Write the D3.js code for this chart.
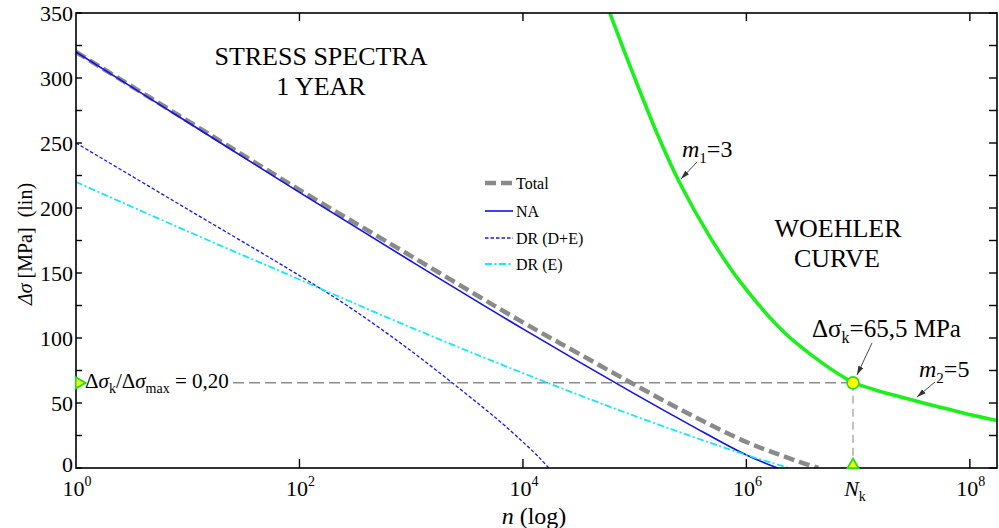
<!DOCTYPE html>
<html><head><meta charset="utf-8">
<script src="https://cdn.jsdelivr.net/npm/d3@7"></script>
<style>
body{margin:0;background:#fff}
svg{display:block}
text{font-family:"Liberation Serif","Times New Roman",serif;fill:#000;white-space:pre}
</style>
</head><body>
<svg id="c" width="999" height="528"></svg>
<script>
// ---------------- data ----------------
const xTickExponents = [0, 2, 4, 6, 8];
const yTickLabels = [0, 50, 100, 150, 200, 250, 300, 350];
const yTickAll = [0,25,50,75,100,125,150,175,200,225,250,275,300,325,350];

// stress spectra [n, Δσ]
const totalData = [[1,320],[10,267],[100,214],[1e3,163],[1e4,112],[3.16e4,88],[1e5,64],[3.16e5,41],[1e6,20],[2e6,10],[3.16e6,4],[4.4e6,0]];
const naData    = [[1,320],[10,266],[100,212],[1e3,159],[1e4,107],[1e5,57],[3.16e5,33],[1e6,10],[1.9e6,0]];
const drDEData  = [[1,250],[10,199],[100,148],[300,122],[1e3,90],[3e3,58],[6e3,37],[1e4,20],[1.4e4,8],[1.7e4,0]];
const drEData   = [[1,220],[10,182],[100,145],[1e3,108],[1e4,73],[1e5,40],[1e6,10],[2.4e6,0]];

// Woehler curve [n, Δσ]
const woehlerM1 = [[6.0e4,350],[9.4e4,306],[1.63e5,255],[2.54e5,219],[4.7e5,178],[8.75e5,143.5],[2.2e6,104],[5e6,79.5],[9.0e6,65.5]];
const woehlerM2 = [[9.0e6,65.5],[1.5e7,59.5],[2e7,56.5],[3.3e7,51.5],[5e7,47.5],[8.7e7,42.3],[1.75e8,36.5]];

const kneeN = 9.0e6;
const kneeS = 65.5;
const legendNames = ["Total", "NA", "DR (D+E)", "DR (E)"];

// ---------------- layout ----------------
const svg = d3.select("#c");
const L = 76, R = 997, T = 13, B = 468;
const x = d3.scaleLog().domain([1, 1.75e8]).range([L, R]);
const y = d3.scaleLinear().domain([0, 350]).range([B, T]);

const defs = svg.append("defs");
defs.append("clipPath").attr("id","clip")
  .append("rect").attr("x",L).attr("y",T).attr("width",R-L).attr("height",B-T);
defs.append("marker").attr("id","arr").attr("viewBox","0 0 10 6")
  .attr("refX",10).attr("refY",3).attr("markerWidth",9).attr("markerHeight",6)
  .attr("markerUnits","userSpaceOnUse").attr("orient","auto")
  .append("path").attr("d","M0,0 L10,3 L0,6 Z").attr("fill","#333");

const styles = [
  {data: totalData, color:"#8a8a8a", width:4.5, dash:"11,5"},
  {data: naData,    color:"#1010f0", width:1.6, dash:null},
  {data: drDEData,  color:"#1a1ae6", width:1.3, dash:"3.5,2"},
  {data: drEData,   color:"#14e8f8", width:1.8, dash:"7,2.5,2,2.5"}
];

const line = d3.line().x(d=>x(d[0])).y(d=>y(d[1])).curve(d3.curveCatmullRom.alpha(0.5));
const gPlot = svg.append("g").attr("clip-path","url(#clip)");

// reference dashed lines
gPlot.append("line").attr("x1",233).attr("x2",x(kneeN)).attr("y1",y(kneeS)).attr("y2",y(kneeS))
  .attr("stroke","#555").attr("stroke-width",1).attr("stroke-dasharray","11,5");
gPlot.append("line").attr("x1",x(kneeN)).attr("x2",x(kneeN)).attr("y1",y(kneeS)).attr("y2",y(0))
  .attr("stroke","#999").attr("stroke-width",1.2).attr("stroke-dasharray","8,5");

styles.forEach(s=>{
  gPlot.append("path").attr("d",line(s.data)).attr("fill","none")
    .attr("stroke",s.color).attr("stroke-width",s.width)
    .attr("stroke-dasharray",s.dash);
});

[woehlerM1, woehlerM2].forEach(w=>{
  gPlot.append("path").attr("d",line(w)).attr("fill","none")
    .attr("stroke","#1cf01c").attr("stroke-width",3.6).attr("stroke-linejoin","round");
});

// frame
svg.append("rect").attr("x",L).attr("y",T).attr("width",R-L).attr("height",B-T)
  .attr("fill","none").attr("stroke","#000").attr("stroke-width",1.6);

// y ticks (left & right, inward)
yTickAll.forEach(v=>{
  svg.append("line").attr("x1",L).attr("x2",L+6).attr("y1",y(v)).attr("y2",y(v)).attr("stroke","#000").attr("stroke-width",1.4);
  svg.append("line").attr("x1",R).attr("x2",R-8).attr("y1",y(v)).attr("y2",y(v)).attr("stroke","#000").attr("stroke-width",1.4);
});
yTickLabels.forEach(v=>{
  svg.append("text").attr("x",L-3).attr("y",y(v)).attr("dy", v===0 ? "0.2em" : "0.35em")
    .attr("text-anchor","end").attr("font-size",22).text(v);
});

// x ticks (bottom & top, inward)
xTickExponents.forEach(e=>{
  const px = x(Math.pow(10,e));
  if (e>0) {
    svg.append("line").attr("x1",px).attr("x2",px).attr("y1",B).attr("y2",B-9).attr("stroke","#000").attr("stroke-width",1.4);
    svg.append("line").attr("x1",px).attr("x2",px).attr("y1",T).attr("y2",T+8).attr("stroke","#000").attr("stroke-width",1.4);
  }
  const t = svg.append("text").attr("x",px+1).attr("y",496).attr("text-anchor","middle").attr("font-size",22);
  t.append("tspan").text("10");
  t.append("tspan").attr("dy",-10).attr("font-size",14).text(e);
});
// N_k label
const nk = svg.append("text").attr("x",x(kneeN)+2).attr("y",496).attr("text-anchor","middle").attr("font-size",22);
nk.append("tspan").attr("font-style","italic").text("N");
nk.append("tspan").attr("dy",5).attr("font-size",14).text("k");

// axis titles
const xt = svg.append("text").attr("x",534).attr("y",524).attr("text-anchor","middle").attr("font-size",24);
xt.append("tspan").attr("font-style","italic").text("n");
xt.append("tspan").text(" (log)");

const yt = svg.append("text").attr("transform","translate(32,244) rotate(-90)").attr("text-anchor","middle").attr("font-size",20);
yt.append("tspan").attr("font-style","italic").text("Δσ");
yt.append("tspan").text(" [MPa]  (lin)");

// big labels
[["STRESS SPECTRA",321,65],["1 YEAR",321,95],["WOEHLER",838,237],["CURVE",837,267]].forEach(d=>{
  svg.append("text").attr("x",d[1]).attr("y",d[2]).attr("text-anchor","middle").attr("font-size",26).text(d[0]);
});

// legend
const legY = [183, 211, 238, 264];
styles.forEach((s,i)=>{
  svg.append("line").attr("x1",485).attr("x2",513).attr("y1",legY[i]).attr("y2",legY[i])
    .attr("stroke",s.color).attr("stroke-width",s.width).attr("stroke-dasharray",s.dash);
  svg.append("text").attr("x",516).attr("y",legY[i]).attr("dy","0.35em").attr("font-size",16).text(legendNames[i]);
});

// annotations
function mLabel(px, py, sub, val){
  const t = svg.append("text").attr("x",px).attr("y",py).attr("font-size",24);
  t.append("tspan").attr("font-style","italic").text("m");
  t.append("tspan").attr("dy",6).attr("font-size",15).text(sub);
  t.append("tspan").attr("dy",-6).text("=" + val);
}
mLabel(682, 157, "1", "3");
mLabel(919, 377, "2", "5");

const dk = svg.append("text").attr("x",812).attr("y",337).attr("font-size",25);
dk.append("tspan").text("Δσ");
dk.append("tspan").attr("dy",6).attr("font-size",16).text("k");
dk.append("tspan").attr("dy",-6).text("=65,5 MPa");

const lr = svg.append("text").attr("x",85).attr("y",388).attr("font-size",21);
lr.append("tspan").text("Δ");
lr.append("tspan").attr("font-style","italic").text("σ");
lr.append("tspan").attr("dy",5).attr("font-size",14).text("k");
lr.append("tspan").attr("dy",-5).text("/Δ");
lr.append("tspan").attr("font-style","italic").text("σ");
lr.append("tspan").attr("dy",5).attr("font-size",14).text("max");
lr.append("tspan").attr("dy",-5).text(" = 0,20");

[[697,162,681,179],[935,382,917,397],[872,343,857,375]].forEach(a=>{
  svg.append("line").attr("x1",a[0]).attr("y1",a[1]).attr("x2",a[2]).attr("y2",a[3])
    .attr("stroke","#333").attr("stroke-width",0.9).attr("marker-end","url(#arr)");
});

// markers
svg.append("circle").attr("cx",x(kneeN)).attr("cy",y(kneeS)).attr("r",6)
  .attr("fill","#ffff00").attr("stroke","#22dd22").attr("stroke-width",1.6);
const tri = d3.symbol(d3.symbolTriangle).size(55);
svg.append("path").attr("d",tri()).attr("transform",`translate(${x(kneeN)},${y(0)-3})`)
  .attr("fill","#ffff00").attr("stroke","#22dd22").attr("stroke-width",1.8);
svg.append("path").attr("d",tri()).attr("transform",`translate(${x(1)+3},${y(kneeS)}) rotate(90)`)
  .attr("fill","#ffff00").attr("stroke","#22dd22").attr("stroke-width",1.8);
</script>
</body></html>
